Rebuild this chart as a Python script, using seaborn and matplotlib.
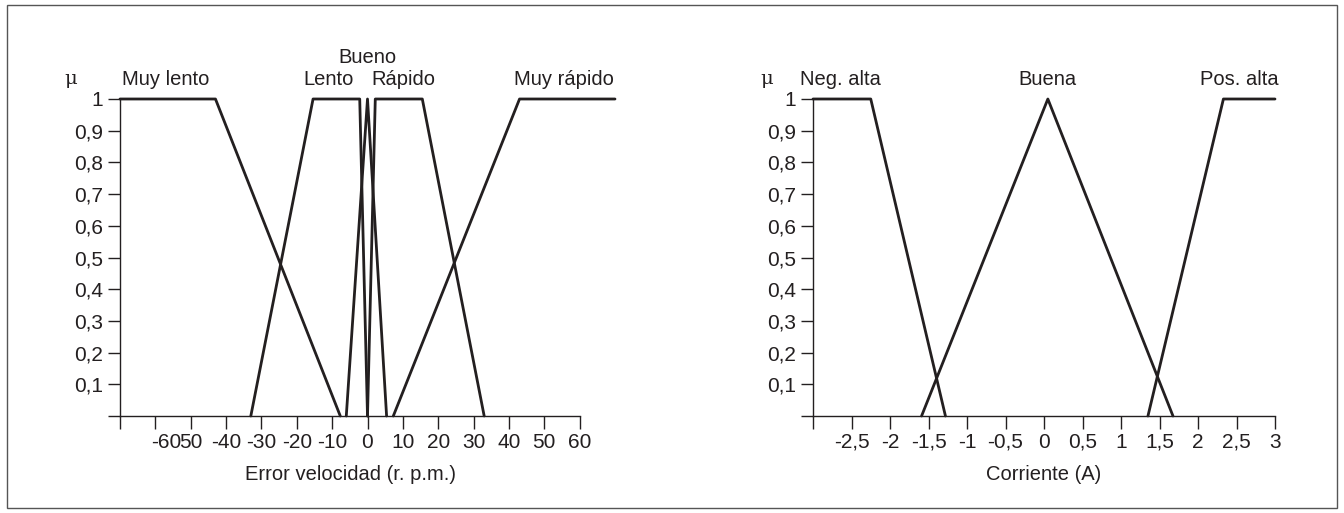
import numpy as np
import pandas as pd
import matplotlib
matplotlib.use('Agg')
import matplotlib.pyplot as plt
import matplotlib.transforms as mtransforms
from matplotlib.patches import Rectangle
import seaborn as sns

# membership functions, error de velocidad (r.p.m.)
muy_lento_x = [-70, -43, -7.7]
muy_lento_y = [1, 1, 0]
lento_x = [-33, -15.4, -2.2, 0]
lento_y = [0, 1, 1, 0]
bueno_x = [-6, 0, 5.4]
bueno_y = [0, 1, 0]
rapido_x = [0, 2.2, 15.5, 33]
rapido_y = [0, 1, 1, 0]
muy_rapido_x = [7.3, 43, 70]
muy_rapido_y = [0, 1, 1]

vel_names = ['Muy lento', 'Lento', 'Bueno', 'Rápido', 'Muy rápido']
vel_name_x = [-57.2, -11.1, 0, 10.1, 55.5]
vel_name_y = [1.063, 1.063, 1.13, 1.063, 1.063]
vel_ticks = [-70, -60, -50, -40, -30, -20, -10, 0, 10, 20, 30, 40, 50, 60]
vel_ticklabels = ['', '-60', '50', '-40', '-30', '-20', '-10', '0', '10', '20', '30', '40', '50', '60']

# membership functions, corriente (A)
neg_alta_x = [-3, -2.25, -1.28]
neg_alta_y = [1, 1, 0]
buena_x = [-1.59, 0.05, 1.675]
buena_y = [0, 1, 0]
pos_alta_x = [1.35, 2.33, 3]
pos_alta_y = [0, 1, 1]

cor_names = ['Neg. alta', 'Buena', 'Pos. alta']
cor_name_x = [-2.65, 0.05, 2.54]
cor_name_y = [1.063, 1.063, 1.063]
cor_ticks = [-3, -2.5, -2, -1.5, -1, -0.5, 0, 0.5, 1, 1.5, 2, 2.5, 3]
cor_ticklabels = ['', '-2,5', '-2', '-1,5', '-1', '-0,5', '0', '0,5', '1', '1,5', '2', '2,5', '3']

mu_ticks = [0, 0.1, 0.2, 0.3, 0.4, 0.5, 0.6, 0.7, 0.8, 0.9, 1]
mu_ticklabels = ['', '0,1', '0,2', '0,3', '0,4', '0,5', '0,6', '0,7', '0,8', '0,9', '1']

sns.set_theme(style='white')
plt.rcParams['font.family'] = ['Liberation Sans', 'DejaVu Sans']
ink = '#231f20'

fig = plt.figure(figsize=(13.44, 5.13), dpi=100)
fig.patches.append(Rectangle((0.005, 0.01), 0.99, 0.98, transform=fig.transFigure,
                             fill=False, edgecolor='#555555', lw=1))

ax1 = fig.add_axes([120 / 1344, 97 / 513, 495 / 1344, 317 / 513])
ax2 = fig.add_axes([813 / 1344, 97 / 513, 462 / 1344, 317 / 513])


def draw_set(ax, xs, ys):
    df = pd.DataFrame({'x': xs, 'y': ys})
    sns.lineplot(data=df, x='x', y='y', ax=ax, color=ink, lw=2.0,
                 sort=False, estimator=None)


for xs, ys in [(muy_lento_x, muy_lento_y), (lento_x, lento_y), (bueno_x, bueno_y),
               (rapido_x, rapido_y), (muy_rapido_x, muy_rapido_y)]:
    draw_set(ax1, xs, ys)
for xs, ys in [(neg_alta_x, neg_alta_y), (buena_x, buena_y), (pos_alta_x, pos_alta_y)]:
    draw_set(ax2, xs, ys)


def style_axes(ax, xlim, ticks, ticklabels, bound, xlabel, label_pos):
    ax.set_xlim(*xlim)
    ax.set_ylim(0, 1)
    for ln in ax.lines:
        ln.set_clip_on(False)
    for s in ['top', 'right']:
        ax.spines[s].set_visible(False)
    for s in ['left', 'bottom']:
        ax.spines[s].set_color(ink)
        ax.spines[s].set_linewidth(1.0)
    ax.spines['bottom'].set_bounds(*bound)
    ax.set_xticks(ticks)
    ax.set_xticklabels(ticklabels)
    ax.set_yticks(mu_ticks)
    ax.set_yticklabels(mu_ticklabels)
    ax.tick_params(axis='both', direction='out', length=9, width=1.0, color=ink,
                   labelcolor=ink, labelsize=15, pad=3, bottom=True, left=True)
    ax.set_xlabel(xlabel, fontsize=14.5, color=ink)
    ax.xaxis.set_label_coords(label_pos, -0.155)
    ax.set_ylabel('')
    ax.text(-0.1, 1.063, 'μ', transform=ax.get_yaxis_transform(), ha='center', va='center',
            fontsize=14, color=ink, family=['DejaVu Serif'])
    ax.grid(False)


style_axes(ax1, (-70, 70), vel_ticks, vel_ticklabels, (-70, 60),
           'Error velocidad (r. p.m.)', 0.465)
style_axes(ax2, (-3, 3), cor_ticks, cor_ticklabels, (-3, 3),
           'Corriente (A)', 0.5)

for name, x, y in zip(vel_names, vel_name_x, vel_name_y):
    ax1.text(x, y, name, ha='center', va='center', fontsize=14.5, color=ink)
for name, x, y in zip(cor_names, cor_name_x, cor_name_y):
    ax2.text(x, y, name, ha='center', va='center', fontsize=14.5, color=ink)

# "-60" label sits shifted right in the original, running into "50"
lab = ax1.get_xticklabels()[1]
lab.set_transform(lab.get_transform() + mtransforms.ScaledTranslation(0.11, 0, fig.dpi_scale_trans))

fig.savefig('out.png', dpi=100)
